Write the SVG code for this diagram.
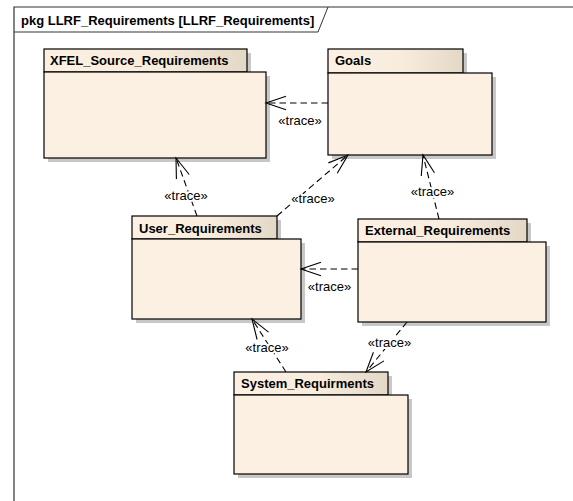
<svg xmlns="http://www.w3.org/2000/svg" width="573" height="501" viewBox="0 0 573 501">
<style>
.shadow{fill:#c8c8c8;stroke:none}
.body{fill:#fbf0e2;stroke:#000;stroke-width:1.2}
.tab{fill:url(#tabg);stroke:#000;stroke-width:1.2}
.name{font-family:"Liberation Sans",Arial,sans-serif;font-weight:bold;font-size:13px;fill:#000}
.title{font-family:"Liberation Sans",Arial,sans-serif;font-weight:bold;font-size:13px;fill:#000}
.lbl{font-family:"Liberation Sans",Arial,sans-serif;font-size:13px;fill:#000;text-anchor:middle;stroke:#fff;stroke-width:4;paint-order:stroke;stroke-linejoin:round}
.dep{fill:none;stroke:#000;stroke-width:1.1;stroke-dasharray:6.5,4;marker-end:url(#open)}
</style>
<defs>
<linearGradient id="tabg" x1="0" y1="0" x2="1" y2="0">
<stop offset="0" stop-color="#fbf0e2"/>
<stop offset="0.55" stop-color="#f8ecdd"/>
<stop offset="1" stop-color="#e3d8c6"/>
</linearGradient>
<marker id="open" markerUnits="userSpaceOnUse" viewBox="-22 -9 24 18" refX="0" refY="0" markerWidth="24" markerHeight="18" orient="auto" overflow="visible">
<path d="M-20,-6.8 L0,0 L-20,6.8" fill="none" stroke="#000" stroke-width="1.1"/>
</marker>
</defs>
<rect width="573" height="501" fill="#fff"/>
<g id="frame">
<path d="M14,501 V7 H573" fill="none" stroke="#333" stroke-width="1.2"/>
<path d="M14,32 H318 L328,7" fill="none" stroke="#333" stroke-width="1"/>
<text class="title" x="21" y="24.5">pkg LLRF_Requirements [LLRF_Requirements]</text>
</g>
<g id="XFEL_Source_Requirements">
<rect class="shadow" x="48" y="53" width="203" height="23"/>
<rect class="shadow" x="48" y="76" width="222" height="86"/>
<rect class="tab" x="44" y="49" width="203" height="23"/>
<rect class="body" x="44" y="72" width="222" height="86"/>
<text class="name" x="50" y="65">XFEL_Source_Requirements</text>
</g>
<g id="Goals">
<rect class="shadow" x="332" y="53" width="135" height="24"/>
<rect class="shadow" x="332" y="77" width="164" height="82"/>
<rect class="tab" x="328" y="49" width="135" height="24"/>
<rect class="body" x="328" y="73" width="164" height="82"/>
<text class="name" x="335" y="65">Goals</text>
</g>
<g id="User_Requirements">
<rect class="shadow" x="136" y="220" width="145" height="23"/>
<rect class="shadow" x="136" y="243" width="169" height="80"/>
<rect class="tab" x="132" y="216" width="145" height="23"/>
<rect class="body" x="132" y="239" width="169" height="80"/>
<text class="name" x="139" y="233">User_Requirements</text>
</g>
<g id="External_Requirements">
<rect class="shadow" x="362" y="223" width="169" height="23"/>
<rect class="shadow" x="362" y="246" width="188" height="80"/>
<rect class="tab" x="358" y="219" width="169" height="23"/>
<rect class="body" x="358" y="242" width="188" height="80"/>
<text class="name" x="365" y="235">External_Requirements</text>
</g>
<g id="System_Requirments">
<rect class="shadow" x="238" y="376" width="154" height="23"/>
<rect class="shadow" x="238" y="399" width="174" height="79"/>
<rect class="tab" x="234" y="372" width="154" height="23"/>
<rect class="body" x="234" y="395" width="174" height="79"/>
<text class="name" x="241" y="388">System_Requirments</text>
</g>
<g id="connectors">
<line class="dep" x1="328" y1="103" x2="266" y2="103"/>
<line class="dep" x1="197" y1="216" x2="176" y2="158"/>
<line class="dep" x1="277" y1="216" x2="348" y2="155"/>
<line class="dep" x1="439" y1="219" x2="423" y2="155"/>
<line class="dep" x1="358" y1="269" x2="301" y2="269"/>
<line class="dep" x1="286" y1="372" x2="252" y2="319"/>
<line class="dep" x1="407" y1="322" x2="366" y2="372"/>
<text class="lbl" x="300" y="124.5">«trace»</text>
<text class="lbl" x="186" y="199.5">«trace»</text>
<text class="lbl" x="313" y="202.5">«trace»</text>
<text class="lbl" x="432.5" y="195.5">«trace»</text>
<text class="lbl" x="329.5" y="291">«trace»</text>
<text class="lbl" x="267" y="352">«trace»</text>
<text class="lbl" x="389.5" y="347">«trace»</text>
</g>
</svg>
